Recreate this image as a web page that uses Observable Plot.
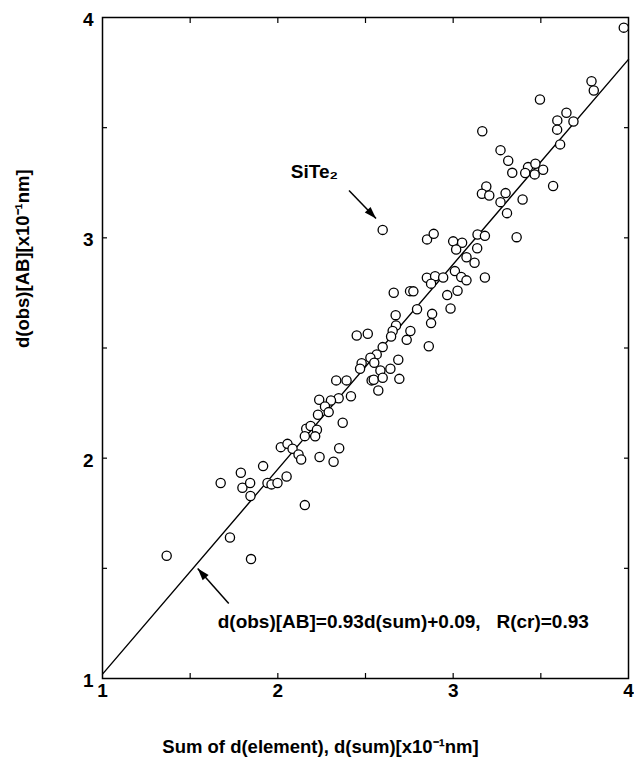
<!DOCTYPE html>
<html>
<head>
<meta charset="utf-8">
<script src="https://cdn.jsdelivr.net/npm/d3@7"></script>
<script src="https://cdn.jsdelivr.net/npm/@observablehq/plot@0.6"></script>
<style>
  html, body { margin: 0; padding: 0; background: #fff; }
  #chart svg { display: block; }
</style>
</head>
<body>
<div id="chart"></div>
<script>
// Sum of element distances d(sum) [x10^-1 nm]
const dSum = [
  3.973, 3.789, 3.802, 3.495, 3.646, 3.594, 3.686, 3.593, 3.610, 3.166,
  3.270, 3.314, 3.337, 3.427, 3.469, 3.513, 3.411, 3.465, 3.570, 3.189,
  3.164, 3.206, 3.299, 3.270, 3.396, 3.307, 3.362, 2.598, 2.851, 2.889,
  3.000, 3.051, 3.017, 3.139, 3.181, 3.137, 3.076, 3.122, 3.010, 2.850,
  2.897, 2.943, 2.874, 3.046, 3.076, 3.181, 2.966, 3.025, 2.661, 2.754,
  2.773, 2.672, 2.794, 2.880, 2.985, 2.450, 2.513, 2.478, 2.469, 2.535,
  2.333, 2.392, 2.417, 2.347, 2.303, 2.236, 2.269, 2.290, 2.229, 2.370,
  2.162, 2.187, 2.223, 2.154, 2.213, 2.017, 2.055, 2.084, 2.118, 2.133,
  2.238, 2.350, 2.318, 1.916, 1.789, 1.674, 1.798, 1.842, 1.844, 1.941,
  1.964, 1.998, 2.050, 2.154, 1.727, 1.366, 1.847, 2.874, 2.674, 2.756,
  2.655, 2.646, 2.735, 2.861, 2.598, 2.564, 2.528, 2.550, 2.687, 2.642,
  2.585, 2.547, 2.598, 2.693, 2.573
];
// Observed distance d(obs)[AB] [x10^-1 nm]
const dObs = [
  3.954, 3.711, 3.669, 3.628, 3.568, 3.533, 3.528, 3.491, 3.424, 3.484,
  3.398, 3.350, 3.295, 3.321, 3.336, 3.309, 3.294, 3.288, 3.235, 3.233,
  3.200, 3.192, 3.203, 3.162, 3.174, 3.112, 3.003, 3.036, 2.993, 3.018,
  2.984, 2.978, 2.947, 3.015, 3.009, 2.953, 2.912, 2.887, 2.849, 2.819,
  2.826, 2.820, 2.792, 2.822, 2.807, 2.820, 2.740, 2.760, 2.751, 2.758,
  2.757, 2.649, 2.676, 2.655, 2.679, 2.557, 2.565, 2.431, 2.406, 2.353,
  2.353, 2.353, 2.281, 2.272, 2.262, 2.265, 2.235, 2.209, 2.197, 2.161,
  2.134, 2.146, 2.129, 2.100, 2.099, 2.050, 2.065, 2.043, 2.017, 1.994,
  2.005, 2.045, 1.984, 1.964, 1.934, 1.887, 1.866, 1.887, 1.828, 1.887,
  1.881, 1.887, 1.917, 1.787, 1.640, 1.557, 1.542, 2.613, 2.602, 2.577,
  2.577, 2.552, 2.537, 2.508, 2.504, 2.471, 2.456, 2.433, 2.447, 2.406,
  2.398, 2.356, 2.365, 2.360, 2.307
];

// Regression line as printed on the chart
const fitSlope = 0.93;
const fitIntercept = 0.09;
const fitRange = [1, 4];

// Axis ticks
const majorTicks = [1, 2, 3, 4];
const minorTicks = [1.5, 2, 2.5, 3, 3.5];
const domainLo = 1, domainHi = 4;

// Texts
const xTitle = "Sum of d(element), d(sum)[x10\u207B\u00B9nm]";
const yTitle = "d(obs)[AB][x10\u207B\u00B9nm]";
const equationText = "d(obs)[AB]=0.93d(sum)+0.09,   R(cr)=0.93";
const outlierLabel = "SiTe\u2082";

// Annotation anchors (data units)
const annoTexts = [
  {text: outlierLabel, x: 2.074, y: 3.297},
  {text: equationText, x: 1.657, y: 1.259}
];
// arrows: tail (x1,y1) -> tip (x2,y2), head direction in degrees
const annoArrows = [
  {x1: 2.406, y1: 3.215, x2: 2.56, y2: 3.088, angle: 136},
  {x1: 1.72, y1: 1.34, x2: 1.543, y2: 1.499, angle: -41.5}
];

const points = dSum.map((x, i) => ({x, y: dObs[i]}));
const fitLine = fitRange.map(x => ({x, y: fitSlope * x + fitIntercept}));

const font = "'Liberation Sans', Arial, Helvetica, sans-serif";

// filled arrow head (tip at the end of the vector)
const headShape = {draw(c, l) {
  c.moveTo(0, -l); c.lineTo(-4, 0); c.lineTo(4, 0); c.closePath();
}};
const noText = () => "";

const chart = Plot.plot({
  width: 634,
  height: 765,
  marginLeft: 102,
  marginRight: 6,
  marginTop: 17,
  marginBottom: 87,
  style: {fontFamily: font, fontWeight: "bold", fontSize: "19px", color: "#000", background: "#fff"},
  x: {domain: [domainLo, domainHi]},
  y: {domain: [domainLo, domainHi]},
  marks: [
    Plot.frame({stroke: "#000", strokeWidth: 1.5}),
    // inward tick marks on all four sides
    Plot.axisX(minorTicks, {anchor: "bottom", tickSize: 5, dy: -5, tickFormat: noText, label: null, strokeWidth: 1.2}),
    Plot.axisX(minorTicks, {anchor: "top", tickSize: 5, dy: 5, tickFormat: noText, label: null, strokeWidth: 1.2}),
    Plot.axisY(minorTicks, {anchor: "left", tickSize: 5, dx: 5, tickFormat: noText, label: null, strokeWidth: 1.2}),
    Plot.axisY(minorTicks, {anchor: "right", tickSize: 5, dx: -5, tickFormat: noText, label: null, strokeWidth: 1.2}),
    // tick labels
    Plot.axisX(majorTicks, {anchor: "bottom", tickSize: 0, tickPadding: 5, label: null, tickFormat: d3.format("d"), fontSize: 19}),
    Plot.axisY(majorTicks, {anchor: "left", tickSize: 0, tickPadding: 9, dy: 2.5, label: null, tickFormat: d3.format("d"), fontSize: 19}),
    // axis titles
    Plot.text([xTitle], {frameAnchor: "bottom", dx: -45, dy: 74, text: d => d, fontSize: 18.5, fontWeight: "bold"}),
    Plot.text([yTitle], {frameAnchor: "left", dx: -79, dy: 0, rotate: -90, text: d => d, fontSize: 18.5, fontWeight: "bold"}),
    // regression line
    Plot.line(fitLine, {x: "x", y: "y", stroke: "#000", strokeWidth: 1.4}),
    // data points
    Plot.dot(points, {x: "x", y: "y", r: 4.6, stroke: "#000", strokeWidth: 1.3, fill: "#fff"}),
    // annotations
    Plot.link(annoArrows, {x1: "x1", y1: "y1", x2: "x2", y2: "y2", stroke: "#000", strokeWidth: 1.5}),
    Plot.vector(annoArrows, {x: "x2", y: "y2", length: 12, rotate: "angle", anchor: "end", shape: headShape, fill: "#000", stroke: "none"}),
    Plot.text(annoTexts, {x: "x", y: "y", text: "text", textAnchor: "start", lineAnchor: "middle", fontSize: 19, fontWeight: "bold"})
  ]
});

document.getElementById("chart").appendChild(chart);
</script>
</body>
</html>
